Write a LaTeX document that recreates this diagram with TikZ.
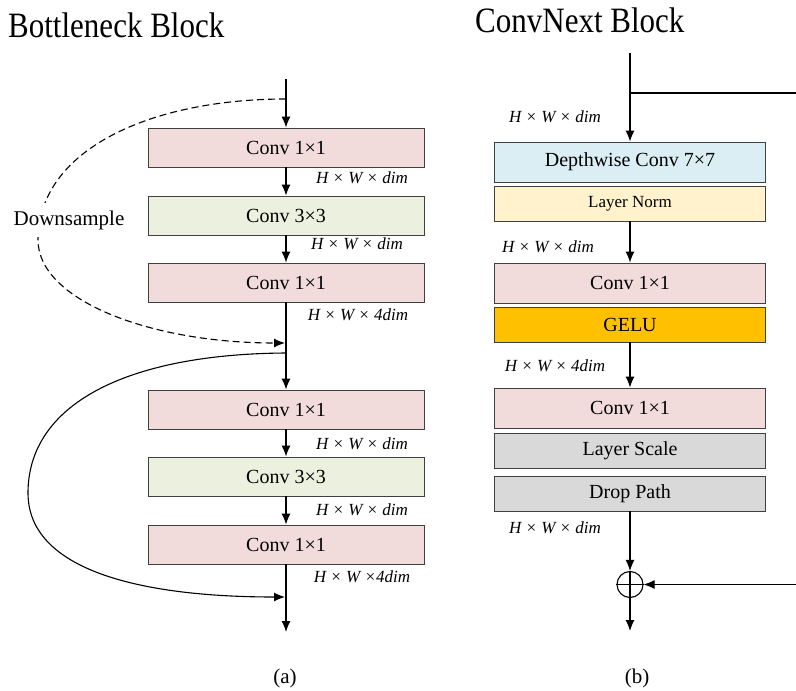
\documentclass[tikz,border=0pt]{standalone}
\usepackage{fontspec}
\setmainfont{Liberation Serif}
\usetikzlibrary{arrows.meta}
\definecolor{cPink}{HTML}{F2DCDB}
\definecolor{cGreen}{HTML}{EBF1DE}
\definecolor{cBlue}{HTML}{DAEEF3}
\definecolor{cYellow}{HTML}{FFF2CC}
\definecolor{cOrange}{HTML}{FFC000}
\definecolor{cGray}{HTML}{D9D9D9}
\begin{document}
\begin{tikzpicture}[x=1pt,y=-1pt,
  box/.style={draw=black!75, line width=0.9pt, inner sep=0pt, font=\fontsize{20}{24}\selectfont},
  lbox/.style={box, minimum width=276pt, minimum height=39pt},
  rbox/.style={box, minimum width=271pt, minimum height=40pt},
  sbox/.style={box, minimum width=271pt, minimum height=35pt},
  dimlab/.style={font=\fontsize{17}{20}\selectfont\itshape, inner sep=0pt},
  arr/.style={-{Latex[length=11pt,width=9pt]}, line width=1.1pt},
  plain/.style={line width=1.1pt},
  titletxt/.style={font=\fontsize{31}{36}\selectfont, inner sep=0pt},
  captxt/.style={font=\fontsize{21}{24}\selectfont, inner sep=0pt}
]
\useasboundingbox (0,0) rectangle (796,691);

% titles
\node[titletxt, anchor=west] (t1) at (8,25) {\scalebox{1}[1.15]{Bottleneck Block}};
\node[titletxt, anchor=west] (t2) at (475,20) {\scalebox{1}[1.15]{ConvNext Block}};

% ---------------- left: bottleneck ----------------
\node[lbox, fill=cPink]  (b1) at (286,147.5) {Conv 1×1};
\node[lbox, fill=cGreen] (b2) at (286,215.5) {Conv 3×3};
\node[lbox, fill=cPink]  (b3) at (286,282.5) {Conv 1×1};
\node[lbox, fill=cPink]  (b4) at (286,409.5) {Conv 1×1};
\node[lbox, fill=cGreen] (b5) at (286,476.5) {Conv 3×3};
\node[lbox, fill=cPink]  (b6) at (286,544.5) {Conv 1×1};

\coordinate (aTop) at (286,79);
\coordinate (aDs) at (286,99);
\coordinate (aDe) at (285,343);
\coordinate (aRs) at (286,353);
\coordinate (aRe) at (285,597);
\coordinate (aEnd) at (286,632);

\draw[arr] (aTop) -- (b1);
\draw[arr] (b1) -- (b2);
\draw[arr] (b2) -- (b3);
\draw[arr] (b3) -- (b4);
\draw[arr] (b4) -- (b5);
\draw[arr] (b5) -- (b6);
\draw[arr] (b6) -- (aEnd);

\draw[arr, dash pattern=on 7pt off 4pt] (aDs) .. controls (150,99) and (38,150) .. (38,240)
   .. controls (38,300) and (150,343) .. (aDe);
\draw[arr] (aRs) .. controls (125,354) and (28,405) .. (28,493)
   .. controls (28,570) and (140,597) .. (aRe);

\node[captxt, fill=white, inner xsep=2pt, inner ysep=7pt] (ds) at (69,220) {Downsample};

\node[dimlab] (l1) at (362,178) {H × W × dim};
\node[dimlab] (l2) at (357,244) {H × W × dim};
\node[dimlab] (l3) at (358,315) {H × W × 4dim};
\node[dimlab] (l4) at (362,444) {H × W × dim};
\node[dimlab] (l5) at (362,510) {H × W × dim};
\node[dimlab] (l6) at (362,577) {H × W ×4dim};

\node[captxt] (ca) at (285,678) {(a)};

% ---------------- right: convnext ----------------
\node[rbox, fill=cBlue]   (dw)   at (630,162)   {Depthwise Conv 7×7};
\node[sbox, fill=cYellow, font=\fontsize{17}{20}\selectfont] (ln) at (630,203.5) {Layer Norm};
\node[rbox, fill=cPink]   (c1)   at (630,283)   {Conv 1×1};
\node[sbox, fill=cOrange] (gelu) at (630,324.5) {GELU};
\node[rbox, fill=cPink]   (c2)   at (630,408)   {Conv 1×1};
\node[sbox, fill=cGray]   (ls)   at (630,450.5) {Layer Scale};
\node[sbox, fill=cGray]   (dp)   at (630,493.5) {Drop Path};

\node[circle, draw=black, line width=1.1pt, minimum size=26pt, inner sep=0pt] (plus) at (630,584.5) {};
\draw[plain] (plus.north) -- (plus.south);
\draw[plain] (plus.west) -- (plus.east);

\coordinate (bTop) at (630,53);
\coordinate (bBr) at (630,93);
\coordinate (bBrE) at (796,93);
\coordinate (bIn) at (796,584.5);
\coordinate (bEnd) at (630,631);

\draw[arr] (bTop) -- (dw);
\draw[plain] (bBr) -- (bBrE);
\draw[arr] (ln) -- (c1);
\draw[arr] (gelu) -- (c2);
\draw[arr] (dp) -- (plus);
\draw[arr] (bIn) -- (plus);
\draw[arr] (plus) -- (bEnd);

\node[dimlab] (r1) at (555,117) {H × W × dim};
\node[dimlab] (r2) at (548,247) {H × W × dim};
\node[dimlab] (r3) at (555,366) {H × W × 4dim};
\node[dimlab] (r4) at (555,528) {H × W × dim};

\node[captxt] (cb) at (637,678) {(b)};
\end{tikzpicture}
\end{document}
